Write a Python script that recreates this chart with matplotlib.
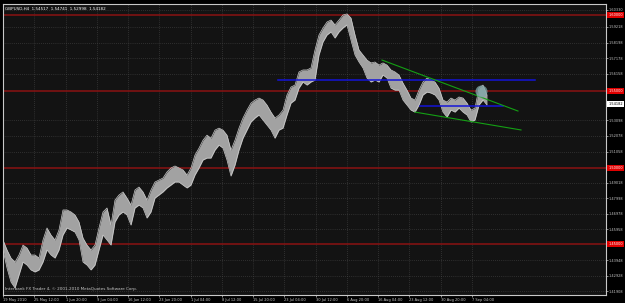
import numpy as np
import matplotlib
matplotlib.use("Agg")
import matplotlib.pyplot as plt
import matplotlib.transforms as mtransforms

# GBPUSD H4 price range, one high/low pair for every ~4 bars
highs = [1.4526, 1.4461, 1.4408, 1.4382, 1.4428, 1.4493, 1.4474, 1.4428, 1.4428, 1.4408,
         1.4526, 1.4605, 1.4559, 1.4526, 1.4592, 1.4723, 1.4723, 1.4710, 1.4690, 1.4644,
         1.4539, 1.4493, 1.4461, 1.4493, 1.4605, 1.4710, 1.4736, 1.4624, 1.4788, 1.4821,
         1.4841, 1.4801, 1.4755, 1.4854, 1.4873, 1.4841, 1.4788, 1.4854, 1.4906, 1.4919,
         1.4932, 1.4972, 1.4998, 1.5011, 1.4998, 1.4985, 1.4952, 1.4998, 1.5083, 1.5128,
         1.5180, 1.5213, 1.5193, 1.5246, 1.5259, 1.5246, 1.5213, 1.5115, 1.5180, 1.5259,
         1.5325, 1.5377, 1.5423, 1.5443, 1.5456, 1.5443, 1.5410, 1.5364, 1.5325, 1.5345,
         1.5377, 1.5476, 1.5528, 1.5541, 1.5627, 1.5640, 1.5640, 1.5653, 1.5771, 1.5869,
         1.5915, 1.5954, 1.5967, 1.5935, 1.5967, 1.6000, 1.6007, 1.5980, 1.5869, 1.5771,
         1.5738, 1.5705, 1.5686, 1.5692, 1.5672, 1.5686, 1.5672, 1.5640, 1.5627, 1.5607,
         1.5554, 1.5508, 1.5456, 1.5443, 1.5508, 1.5561, 1.5587, 1.5574, 1.5561, 1.5521,
         1.5443, 1.5430, 1.5456, 1.5443, 1.5463, 1.5456, 1.5423, 1.5377, 1.5390, 1.5521,
         1.5541, 1.5476]
lows = [1.4461, 1.4343, 1.4251, 1.4212, 1.4297, 1.4382, 1.4362, 1.4330, 1.4317, 1.4330,
        1.4382, 1.4461, 1.4428, 1.4408, 1.4461, 1.4559, 1.4605, 1.4592, 1.4578, 1.4526,
        1.4382, 1.4362, 1.4330, 1.4362, 1.4461, 1.4559, 1.4526, 1.4493, 1.4644, 1.4690,
        1.4710, 1.4690, 1.4624, 1.4736, 1.4755, 1.4736, 1.4670, 1.4710, 1.4801, 1.4821,
        1.4841, 1.4867, 1.4886, 1.4906, 1.4906, 1.4886, 1.4867, 1.4886, 1.4952, 1.4998,
        1.5050, 1.5063, 1.5063, 1.5115, 1.5148, 1.5128, 1.5050, 1.4945, 1.5017, 1.5115,
        1.5193, 1.5246, 1.5299, 1.5325, 1.5345, 1.5312, 1.5279, 1.5246, 1.5193, 1.5246,
        1.5259, 1.5345, 1.5423, 1.5443, 1.5521, 1.5561, 1.5541, 1.5561, 1.5574, 1.5738,
        1.5823, 1.5869, 1.5889, 1.5849, 1.5889, 1.5915, 1.5935, 1.5836, 1.5738, 1.5692,
        1.5653, 1.5587, 1.5561, 1.5574, 1.5561, 1.5607, 1.5587, 1.5521, 1.5508, 1.5508,
        1.5443, 1.5410, 1.5377, 1.5364, 1.5410, 1.5476, 1.5495, 1.5489, 1.5476, 1.5443,
        1.5364, 1.5331, 1.5377, 1.5364, 1.5390, 1.5364, 1.5345, 1.5299, 1.5312, 1.5410,
        1.5443, 1.5410]

date_labels = ["19 May 2010", "25 May 12:00", "1 Jun 20:00", "9 Jun 04:00", "16 Jun 12:00",
               "23 Jun 20:00", "1 Jul 04:00", "8 Jul 12:00", "15 Jul 20:00", "23 Jul 04:00",
               "30 Jul 12:00", "6 Aug 20:00", "16 Aug 04:00", "23 Aug 12:00", "30 Aug 20:00",
               "7 Sep 04:00"]
price_ticks = [1.60330, 1.59218, 1.58198, 1.57178, 1.56158, 1.53098, 1.52078, 1.51058,
               1.49018, 1.47998, 1.46978, 1.45958, 1.43948, 1.42928, 1.41908]
levels = [1.60, 1.55, 1.50, 1.45]
last_price = 1.54182
title = "GBPUSD,H4  1.54517  1.54741  1.52998  1.54182"

# drawn objects: (bar, price) end points
blue_long = ([281.5, 544.5], [1.5576, 1.5576])
blue_short = ([426.8, 511.8], [1.5404, 1.5404])
green_upper = ([387.9, 527.1], [1.5705, 1.5371])
green_lower = ([421.7, 530.2], [1.5364, 1.5247])
circle = (489.3, 1.5504)

bars_per_sample = 4.094
bars_per_label = 32

bg = "#131313"
fg = "#c8c8c8"

fig = plt.figure(figsize=(6.25, 3.03), dpi=100, facecolor="black")
ax = fig.add_axes([3 / 625, 8 / 303, 603 / 625, 291 / 303])
ax.set_facecolor(bg)

# price bars
xs = np.arange(len(highs)) * bars_per_sample
ax.fill_between(xs, lows, highs, color="#a2a2a2", lw=0, zorder=3)
ax.plot(xs, highs, color="#cccccc", lw=0.5, zorder=3)
ax.plot(xs, lows, color="#cccccc", lw=0.5, zorder=3)

for lv in levels:
    ax.axhline(lv, color="#8a1212", lw=1.1, zorder=2)

ax.plot(*blue_long, color="#1414d8", lw=1.1, zorder=4)
ax.plot(*blue_short, color="#1414d8", lw=1.1, zorder=4)
ax.plot(*green_upper, color="#14a014", lw=0.8, zorder=4)
ax.plot(*green_lower, color="#14a014", lw=0.8, zorder=4)
ax.scatter([circle[0]], [circle[1]], s=75, color="#7fa8a8", alpha=0.75, lw=0, zorder=5)

ax.set_xlim(0, 617.2)
ax.set_ylim(1.4166, 1.6072)

# grid
xt = np.arange(len(date_labels)) * bars_per_label
ax.set_xticks(xt)
ax.set_xticklabels(date_labels, ha="left", fontsize=2.6, color=fg)
ax.set_yticks(price_ticks)
ax.set_yticklabels([f"{p:.5f}" for p in price_ticks], fontsize=2.5, color=fg)
ax.yaxis.tick_right()
ax.tick_params(axis="both", colors=fg, length=1.5, width=0.5, pad=0.6)
ax.grid(True, color="#4a4a4a", ls=(0, (1, 2)), lw=0.5, zorder=1)

for sp in ax.spines.values():
    sp.set_color(fg)
    sp.set_linewidth(0.8)

# level tags on the price scale
trans = mtransforms.blended_transform_factory(ax.transAxes, ax.transData)
for lv in levels:
    ax.text(1.004, lv, f"{lv:.5f}", transform=trans, fontsize=2.5, color="white",
            va="center", ha="left", clip_on=False,
            bbox=dict(boxstyle="square,pad=0.3", fc="#e00000", ec="none"))
ax.text(1.004, last_price, f"{last_price:.5f}", transform=trans, fontsize=2.5, color="black",
        va="center", ha="left", clip_on=False,
        bbox=dict(boxstyle="square,pad=0.3", fc="white", ec="none"))

ax.text(0.003, 0.99, title, transform=ax.transAxes, fontsize=3.0, color="white",
        va="top", ha="left")
ax.text(0.003, 0.015, "Interbank FX Trader 4, © 2001-2010 MetaQuotes Software Corp.",
        transform=ax.transAxes, fontsize=3.0, color=fg, va="bottom", ha="left")

fig.savefig("out.png", dpi=100, facecolor="black")
